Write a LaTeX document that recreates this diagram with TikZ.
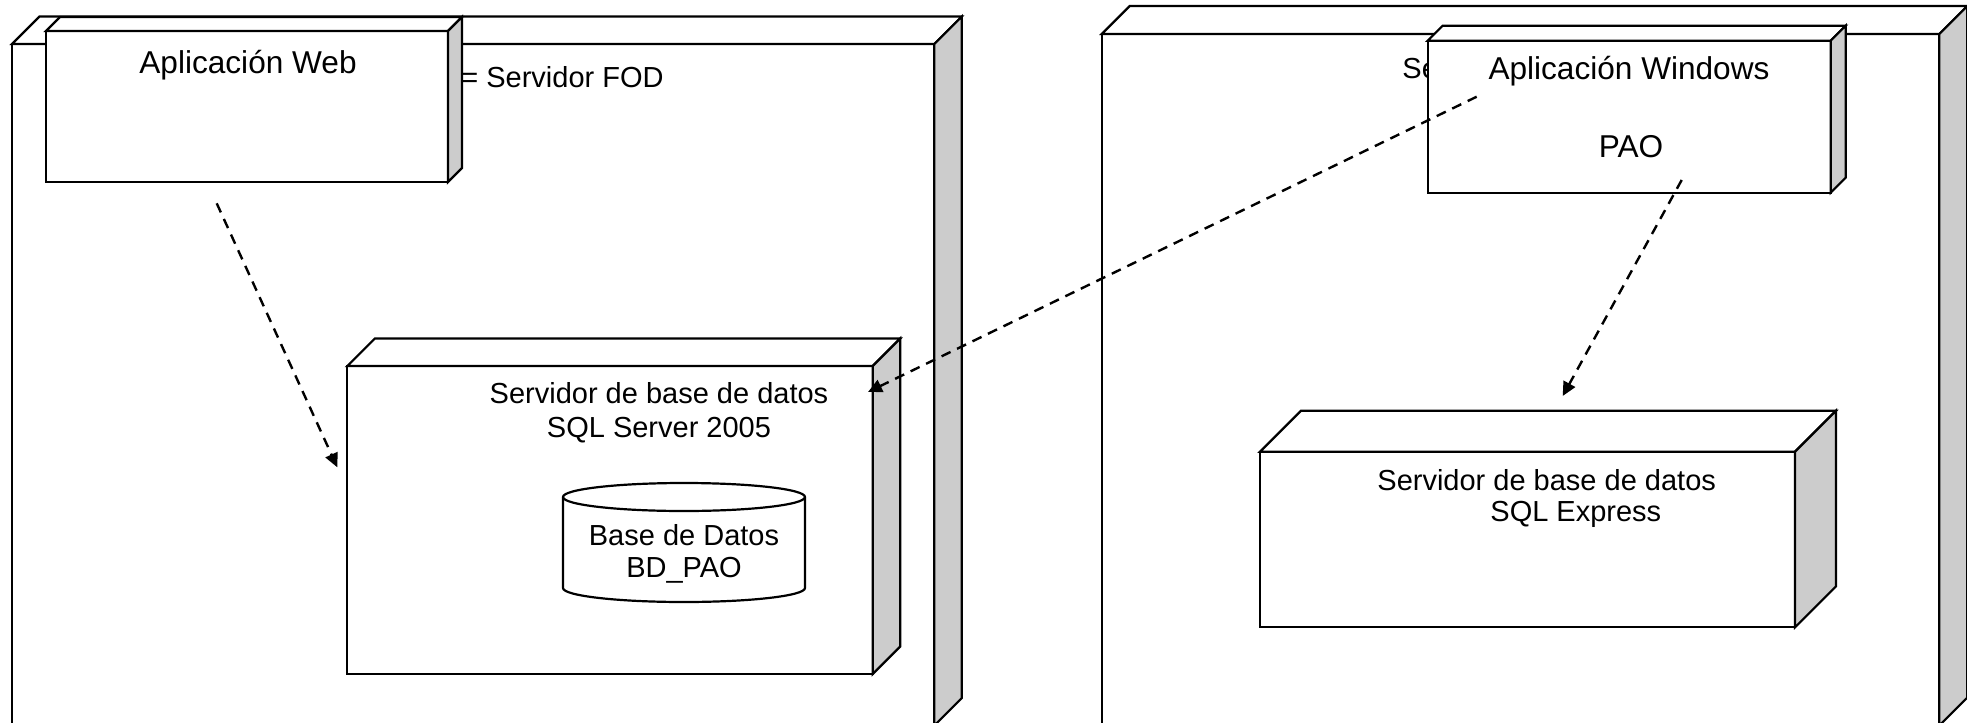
\documentclass[tikz,border=0pt]{standalone}
\usepackage{fontspec}
\setmainfont{Liberation Sans}
\usetikzlibrary{arrows.meta,fit,calc}
\definecolor{sidegray}{HTML}{CCCCCC}
\newcommand{\umlnode}[6]{%
  \node[frontbox, fit={(#2,#3) (#4,#5)}] (#1) {};
  \draw[topface] (#1.north west) -- ++(#6,-#6) -- ($(#1.north east)+(#6,-#6)$) -- (#1.north east) -- cycle;
  \draw[sideface] (#1.north east) -- ++(#6,-#6) -- ($(#1.south east)+(#6,-#6)$) -- (#1.south east) -- cycle;
}
\begin{document}
\begin{tikzpicture}[x=0.5pt,y=-0.5pt,line join=miter,
  frontbox/.style={draw, fill=white, line width=1.1pt, inner sep=0pt, outer sep=0pt},
  topface/.style={draw, fill=white, line width=1.1pt},
  sideface/.style={draw, fill=sidegray, line width=1.1pt},
  lbl/.style={font=\fontsize{14.5}{17}\selectfont, inner sep=0pt, anchor=base},
  applbl/.style={font=\fontsize{15.8}{18}\selectfont, inner sep=0pt, anchor=base},
  cyl/.style={draw, fill=white, line width=1.1pt},
  dep/.style={line width=1.2pt, dash pattern=on 5pt off 3.6pt, -{Triangle[length=7pt,width=6.5pt]}}]
\useasboundingbox (0,0) rectangle (1967,723);
% left execution node
\umlnode{fod}{12}{44}{934.3}{725.5}{27.5}
\node[lbl, anchor=base west] (fodlbl) at (461,87) {= Servidor FOD};
\umlnode{web}{46}{31}{448}{182}{14}
\node[applbl] (weblbl) at (248,73) {Aplicación Web};
\umlnode{sqls}{347.3}{366}{872.7}{674}{27.5}
\node[lbl] (sqls1) at (659,403) {Servidor de base de datos};
\node[lbl] (sqls2) at (659,437) {SQL Server 2005};
% database cylinder
\path[cyl] (563,497) -- (563,588) arc[start angle=180, end angle=360, x radius=60.5pt, y radius=7pt] -- (805,497) arc[start angle=0, end angle=180, x radius=60.5pt, y radius=7pt] -- cycle;
\draw[line width=1.1pt] (563,497) arc[start angle=180, end angle=360, x radius=60.5pt, y radius=7pt];
\node[lbl] (bd1) at (684,545) {Base de Datos};
\node[lbl] (bd2) at (684,577) {BD\_PAO};
% right execution node
\umlnode{pc}{1101.7}{34}{1939.3}{725.5}{28}
\node[lbl, anchor=base west] (pclbl) at (1402,78) {Se};
\umlnode{win}{1427.7}{40.7}{1830.7}{192.7}{15}
\node[applbl] (winlbl) at (1629,79) {Aplicación Windows};
\node[applbl] (paolbl) at (1631,157) {PAO};
\umlnode{sqle}{1260}{451.7}{1795}{627.3}{41}
\node[lbl, anchor=base west] (sqle1) at (1377,490) {Servidor de base de datos};
\node[lbl, anchor=base west] (sqle2) at (1490,521.7) {SQL Express};
% dependencies
\coordinate (a1s) at (216.7,203.3);
\coordinate (a1e) at (337.3,467.3);
\coordinate (a2s) at (1476.7,96.7);
\coordinate (a2e) at (868,392);
\coordinate (a3s) at (1681.7,180);
\coordinate (a3e) at (1562.7,396);
\draw[dep] (a1s) -- (a1e);
\draw[dep] (a2s) -- (a2e);
\draw[dep] (a3s) -- (a3e);
\end{tikzpicture}
\end{document}
